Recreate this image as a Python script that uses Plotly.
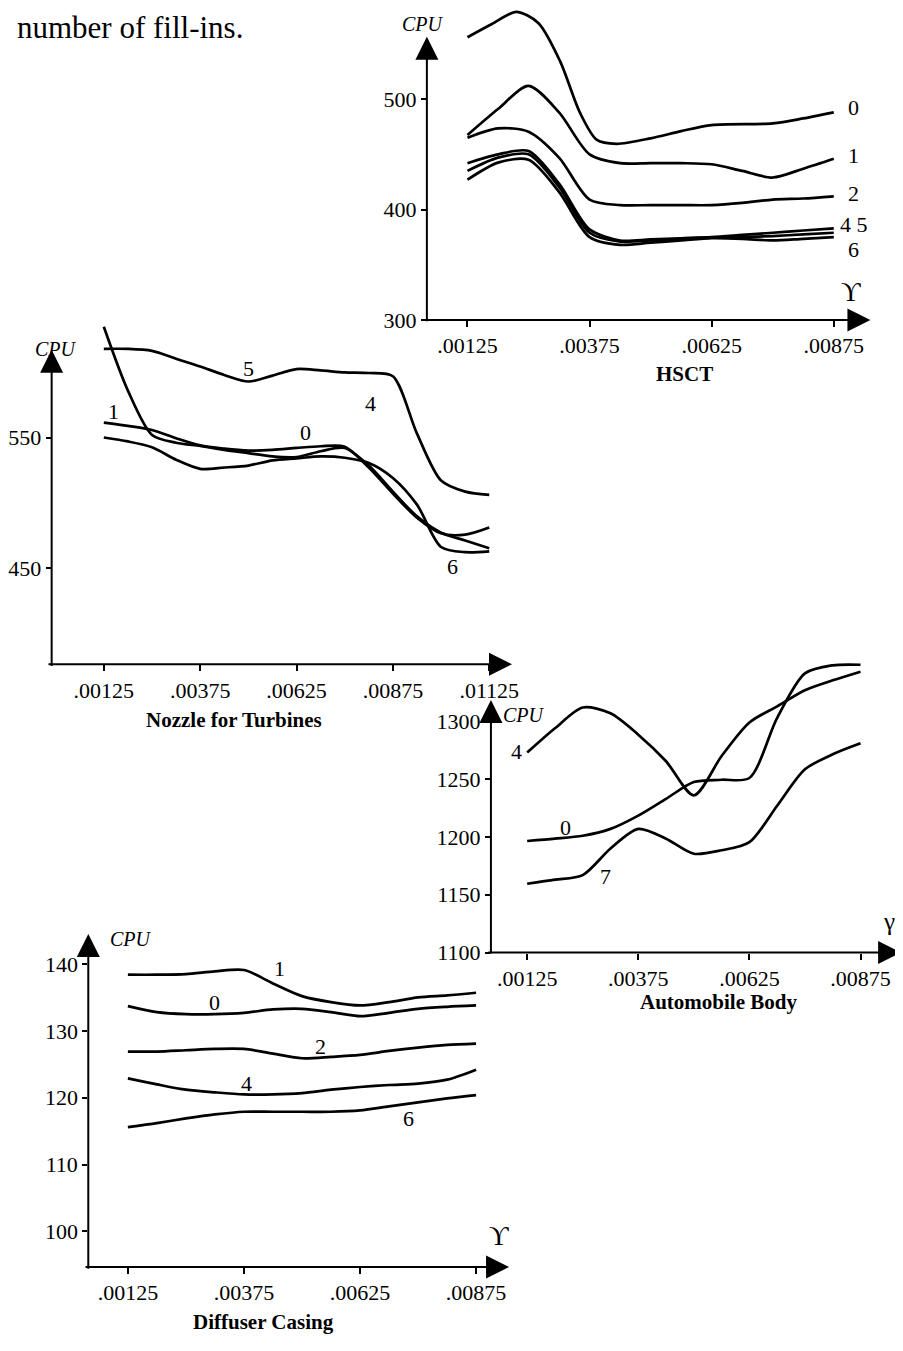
import plotly.graph_objects as go

W, H = 903, 1351
OFF = 8  # default page margin of the html body
SERIF = "Liberation Serif, Times New Roman, serif"

# ---------------- data ----------------
hsct_x = [0.00125, 0.001875, 0.0025, 0.003125, 0.00375, 0.004375, 0.005,
          0.005625, 0.00625, 0.006875, 0.0075, 0.008125, 0.00875]
hsct_0_x = [0.00125, 0.00175, 0.00225, 0.0027, 0.00315, 0.00355, 0.0039,
            0.0043, 0.005, 0.005625, 0.00625, 0.0075, 0.008125, 0.00875]
hsct_0 = [556, 568, 579, 569, 534, 488, 463, 459.5, 464.5, 471, 476.5, 478,
          482.5, 488]
hsct_1 = [467.5, 491, 512, 488, 450, 442, 442, 442, 441, 435, 429, 437, 446]
hsct_2 = [465, 473.5, 470.5, 447, 409, 404, 404, 404, 404, 406, 409, 410, 412]
hsct_4 = [442, 450, 453, 423.5, 382, 372, 373, 374, 375, 377, 379, 381, 383]
hsct_5 = [435, 447, 450, 420.5, 379, 371, 372, 373.5, 374.5, 375, 376, 377.5, 379]
hsct_6 = [427, 442.5, 445, 416, 375, 368, 370, 372, 374, 373.5, 372, 373.5, 375]
hsct_ticks = [0.00125, 0.00375, 0.00625, 0.00875]
hsct_ticktext = [".00125", ".00375", ".00625", ".00875"]
hsct_yticks = [300, 400, 500]

nozzle_x = [0.00125, 0.001875, 0.0025, 0.003125, 0.00375, 0.004375, 0.005,
            0.005625, 0.00625, 0.006875, 0.0075, 0.008125, 0.00875, 0.009375,
            0.01, 0.010625, 0.01125]
nozzle_5 = [618, 618, 616.5, 610.5, 604.5, 598, 593, 597.5, 602.5, 601.5, 600,
            599.5, 597, 553, 517, 508.5, 506]
nozzle_4 = [635, 586, 552, 546, 543.5, 540.5, 538, 535.5, 535, 539.5, 542,
            528.5, 508.5, 489.5, 477, 471, 465]
nozzle_1 = [561.5, 559, 555.8, 549.5, 544, 541.5, 540, 540.5, 542, 543.3, 543,
            527, 507, 488.5, 476.5, 475.5, 481]
nozzle_6 = [550, 547, 542.5, 533, 526, 527, 528.5, 532.5, 534, 535.5, 534.5,
            530.5, 519, 498.5, 466, 462, 462.7]
nozzle_ticks = [0.00125, 0.00375, 0.00625, 0.00875, 0.01125]
nozzle_ticktext = [".00125", ".00375", ".00625", ".00875", ".01125"]
nozzle_yticks = [450, 550]

auto_x = [0.00125, 0.001875, 0.0025, 0.003125, 0.00375, 0.004375, 0.005,
          0.005625, 0.00625, 0.006875, 0.0075, 0.008125, 0.00875]
auto_4 = [1273, 1294, 1312, 1307, 1288.5, 1265.5, 1236, 1270, 1299, 1313, 1327,
          1335.5, 1343]
auto_0 = [1196.5, 1198.5, 1201, 1207, 1218.5, 1233, 1247.5, 1249.5, 1251, 1303,
          1341.5, 1348.5, 1349]
auto_7 = [1159.5, 1163, 1167, 1190, 1207, 1198.5, 1185.5, 1188.5, 1195.5, 1227,
          1258.5, 1271.5, 1281]
auto_ticks = [0.00125, 0.00375, 0.00625, 0.00875]
auto_ticktext = [".00125", ".00375", ".00625", ".00875"]
auto_yticks = [1100, 1150, 1200, 1250, 1300]

diff_x = [0.00125, 0.001875, 0.0025, 0.003125, 0.00375, 0.004375, 0.005,
          0.005625, 0.00625, 0.006875, 0.0075, 0.008125, 0.00875]
diff_1 = [138.4, 138.4, 138.5, 138.9, 139.1, 137.1, 135.2, 134.3, 133.8, 134.3,
          135.0, 135.3, 135.7]
diff_0 = [133.7, 132.8, 132.5, 132.5, 132.7, 133.2, 133.3, 132.8, 132.2, 132.7,
          133.3, 133.6, 133.8]
diff_2 = [126.9, 126.9, 127.1, 127.3, 127.3, 126.6, 125.9, 126.1, 126.4, 127.0,
          127.5, 127.9, 128.1]
diff_4 = [122.9, 122.0, 121.2, 120.8, 120.5, 120.5, 120.7, 121.2, 121.6, 121.9,
          122.1, 122.7, 124.2]
diff_6 = [115.6, 116.2, 116.9, 117.5, 117.9, 117.9, 117.9, 117.9, 118.1, 118.7,
          119.3, 119.9, 120.4]
diff_ticks = [0.00125, 0.00375, 0.00625, 0.00875]
diff_ticktext = [".00125", ".00375", ".00625", ".00875"]
diff_yticks = [100, 110, 120, 130, 140]

# ---------------- layout geometry (screen pixels) ----------------
def lin(p, p0, v0, p1, v1):
    return v0 + (p - p0) * (v1 - v0) / (p1 - p0)

def fx(px):
    return (px - OFF) / W

def fy(py):
    return 1 - (py - OFF) / H

panels = [
    dict(box=(422, 885, 5, 323), xcal=(463, 0.00125, 833, 0.00875),
         ycal=(323, 300, 100, 500), tips=(870, 37),
         series=[(hsct_0_x, hsct_0), (hsct_x, hsct_1), (hsct_x, hsct_2),
                 (hsct_x, hsct_4), (hsct_x, hsct_5), (hsct_x, hsct_6)],
         xt=hsct_ticks, xtt=hsct_ticktext, yt=hsct_yticks),
    dict(box=(43, 515, 320, 670.7), xcal=(95.7, 0.00125, 485, 0.01125),
         ycal=(441.7, 550, 573.3, 450), tips=(508, 353),
         series=[(nozzle_x, nozzle_5), (nozzle_x, nozzle_4),
                 (nozzle_x, nozzle_1), (nozzle_x, nozzle_6)],
         xt=nozzle_ticks, xtt=nozzle_ticktext, yt=nozzle_yticks),
    dict(box=(486.7, 905, 662, 961.7), xcal=(523.3, 0.00125, 860, 0.00875),
         ycal=(728.3, 1300, 961.7, 1100), tips=(901, 706.7),
         series=[(auto_x, auto_4), (auto_x, auto_0), (auto_x, auto_7)],
         xt=auto_ticks, xtt=auto_ticktext, yt=auto_yticks),
    dict(box=(80, 515, 935, 1279.3), xcal=(120, 0.00125, 471.7, 0.00875),
         ycal=(973.3, 140, 1243.3, 100), tips=(505, 943),
         series=[(diff_x, diff_1), (diff_x, diff_0), (diff_x, diff_2),
                 (diff_x, diff_4), (diff_x, diff_6)],
         xt=diff_ticks, xtt=diff_ticktext, yt=diff_yticks),
]

fig = go.Figure()
layout = dict(width=W, height=H, margin=dict(l=0, r=0, t=0, b=0),
              paper_bgcolor="white", plot_bgcolor="rgba(0,0,0,0)",
              showlegend=False)
annotations = []

tickfont = dict(family=SERIF, size=22, color="black")

for i, p in enumerate(panels):
    n = "" if i == 0 else str(i + 1)
    l, r, t, b = p["box"]
    xc, yc = p["xcal"], p["ycal"]
    xr = [lin(l, *xc), lin(r, *xc)]
    yr = [lin(b, *yc), lin(t, *yc)]
    layout["xaxis" + n] = dict(domain=[fx(l), min(fx(r), 1)], range=xr, anchor="y" + n,
                               showgrid=False, zeroline=False, showline=False,
                               ticks="outside", ticklen=6, tickwidth=1.5,
                               tickcolor="black", tickvals=p["xt"],
                               ticktext=p["xtt"], tickfont=tickfont)
    if fx(r) > 1:
        layout["xaxis" + n]["range"] = [xr[0], lin(OFF + W, *xc)]
    layout["yaxis" + n] = dict(domain=[fy(b), min(fy(t), 1)], range=yr, anchor="x" + n,
                               showgrid=False, zeroline=False, showline=False,
                               ticks="outside", ticklen=5, tickwidth=1.5,
                               tickcolor="black", tickvals=p["yt"],
                               tickfont=tickfont)
    if fy(t) > 1:
        layout["yaxis" + n]["range"] = [yr[0], lin(OFF, *yc)]
    for sx, sy in p["series"]:
        fig.add_trace(go.Scatter(x=sx, y=sy, mode="lines",
                                 line=dict(color="black", width=2.7,
                                           shape="spline", smoothing=0.8),
                                 xaxis="x" + n, yaxis="y" + n,
                                 hoverinfo="skip", showlegend=False))
    tx, ty = p["tips"]
    annotations.append(dict(x=fx(l), y=fy(ty), xref="paper", yref="paper",
                            ax=0, ay=b - ty, text="", showarrow=True,
                            arrowhead=2, arrowsize=2.3, arrowwidth=2,
                            arrowcolor="black"))
    annotations.append(dict(x=fx(tx), y=fy(b), xref="paper", yref="paper",
                            ax=-(tx - l), ay=0, text="", showarrow=True,
                            arrowhead=2, arrowsize=2.3, arrowwidth=2,
                            arrowcolor="black"))

# text labels: (text, px, py, size, style)
texts = [
    ("number of fill-ins.", 6, 8, 31, "top"),
    ("CPU", 418, 24, 20, "i"), ("0", 853, 108, 22, ""), ("1", 853, 157, 22, ""),
    ("2", 853, 195, 22, ""), ("4 5", 853, 227, 22, ""), ("6", 853, 252, 22, ""),
    ("ϒ", 850, 295, 27, ""), ("HSCT", 682, 378, 21, "b"),
    ("CPU", 47, 352, 20, "i"), ("5", 242, 372, 22, ""), ("4", 365, 407, 22, ""),
    ("1", 105, 415, 22, ""), ("0", 299, 437, 22, ""), ("6", 448, 572, 22, ""),
    ("Nozzle for Turbines", 227, 727, 21, "b"),
    ("CPU", 520, 722, 20, "i"), ("4", 513, 759, 22, ""), ("0", 562, 835, 22, ""),
    ("7", 602, 885, 22, ""), ("γ", 889, 930, 25, ""),
    ("Automobile Body", 717, 1012, 21, "b"),
    ("CPU", 123, 948, 20, "i"), ("1", 273, 978, 22, ""), ("0", 207, 1012, 22, ""),
    ("2", 315, 1057, 22, ""), ("4", 240, 1094, 22, ""), ("6", 403, 1129, 22, ""),
    ("ϒ", 495, 1248, 27, ""), ("Diffuser Casing", 257, 1335, 21, "b"),
]
for txt, px, py, size, style in texts:
    t = txt
    if style == "i":
        t = "<i>" + txt + "</i>"
    elif style == "b":
        t = "<b>" + txt + "</b>"
    top = style == "top"
    annotations.append(dict(x=fx(px), y=fy(py), xref="paper", yref="paper",
                            text=t, showarrow=False,
                            xanchor="left" if top else "center",
                            yanchor="top" if top else "middle",
                            font=dict(family=SERIF, size=size, color="black")))

layout["annotations"] = annotations
fig.update_layout(**layout)
fig.write_html("out.html")
